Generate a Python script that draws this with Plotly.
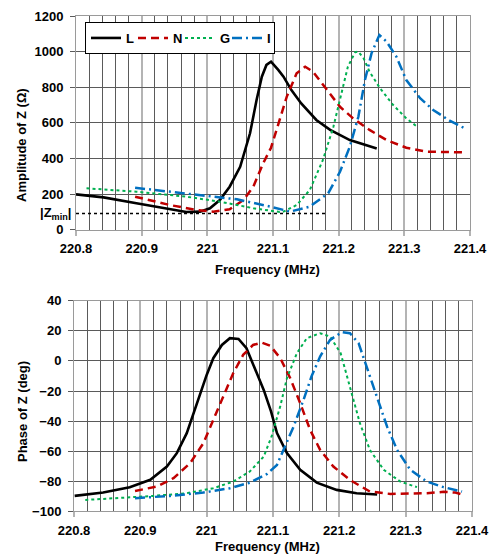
import plotly.graph_objects as go

# ---------------- data: amplitude |Z| (Ohm) ----------------
amp_L_f = [220.800, 220.842, 220.892, 220.944, 220.968, 220.989, 221.004, 221.019, 221.034, 221.050,
           221.065, 221.075, 221.083, 221.090, 221.097, 221.108, 221.116, 221.128, 221.143, 221.166,
           221.187, 221.217, 221.242, 221.258]
amp_L_v = [198, 181, 148, 114, 99, 101, 120, 166, 241, 353,
           541, 728, 859, 925, 943, 897, 859, 784, 709, 616,
           560, 503, 471, 455]

amp_N_f = [220.890, 220.943, 220.984, 221.009, 221.034, 221.055, 221.070, 221.085, 221.097, 221.105,
           221.121, 221.136, 221.149, 221.161, 221.182, 221.202, 221.222, 221.247, 221.273, 221.303,
           221.334, 221.364, 221.392]
amp_N_v = [185, 138, 110, 101, 114, 166, 241, 372, 460, 560,
           747, 878, 915, 887, 784, 690, 625, 560, 503, 460,
           438, 436, 434]

amp_G_f = [220.816, 220.892, 220.968, 221.019, 221.070, 221.110, 221.116, 221.136, 221.156, 221.176,
           221.192, 221.204, 221.214, 221.225, 221.230, 221.238, 221.247, 221.263, 221.283, 221.303,
           221.318]
amp_G_v = [232, 213, 185, 157, 120, 99, 101, 138, 222, 391,
           578, 766, 915, 996, 1000, 962, 887, 794, 700, 625,
           582]

amp_I_f = [220.890, 220.943, 220.994, 221.045, 221.095, 221.126, 221.156, 221.184, 221.202, 221.217,
           221.230, 221.240, 221.250, 221.262, 221.273, 221.288, 221.303, 221.324, 221.344, 221.369,
           221.392]
amp_I_v = [235, 213, 194, 170, 130, 101, 129, 204, 325, 466,
           634, 840, 990, 1093, 1056, 971, 840, 738, 672, 612,
           569]

# ---------------- data: phase of Z (deg) ----------------
ph_L_f = [220.801, 220.844, 220.884, 220.915, 220.940, 220.955, 220.970, 220.980, 220.990, 221.000,
          221.010, 221.023, 221.035, 221.048, 221.060, 221.073, 221.086, 221.097, 221.106, 221.121,
          221.141, 221.166, 221.196, 221.226, 221.257]
ph_L_v = [-89.7, -87.5, -83.9, -79.0, -70.2, -61.3, -48.0, -34.8, -21.5, -9.3,
          1.8, 10.6, 15.1, 14.6, 8.4, -4.9, -19.3, -33.5, -48.0, -61.3,
          -72.4, -80.9, -85.7, -87.9, -88.8]

ph_N_f = [220.892, 220.925, 220.950, 220.975, 220.995, 221.010, 221.025, 221.040, 221.055, 221.070,
          221.083, 221.096, 221.111, 221.126, 221.141, 221.156, 221.171, 221.191, 221.216, 221.246,
          221.277, 221.307, 221.332, 221.357, 221.375, 221.387]
ph_N_v = [-86.4, -83.5, -77.9, -68.0, -54.7, -39.2, -23.7, -8.2, 4.0, 10.6,
          12.2, 10.0, 1.8, -11.5, -28.1, -45.9, -59.1, -70.2, -79.1, -86.8,
          -88.4, -88.4, -87.9, -87.0, -87.5, -89.0]

ph_G_f = [220.817, 220.869, 220.920, 220.970, 221.010, 221.040, 221.065, 221.086, 221.098, 221.111,
          221.121, 221.136, 221.151, 221.171, 221.186, 221.202, 221.216, 221.231, 221.246, 221.267,
          221.292, 221.317]
ph_G_v = [-92.4, -91.2, -89.7, -87.9, -84.6, -80.2, -73.5, -63.6, -50.0, -30.0,
          -11.5, 5.1, 15.1, 18.4, 16.2, 5.1, -17.1, -41.4, -59.1, -72.4,
          -80.2, -83.9]

ph_I_f = [220.892, 220.945, 220.995, 221.035, 221.065, 221.091, 221.106, 221.116, 221.131, 221.146,
          221.158, 221.171, 221.186, 221.204, 221.216, 221.229, 221.241, 221.257, 221.272, 221.287,
          221.307, 221.332, 221.357, 221.385]
ph_I_v = [-91.2, -89.7, -87.5, -84.6, -80.9, -75.1, -69.1, -59.1, -43.7, -25.9,
          -10.4, 2.9, 14.0, 19.1, 18.4, 11.8, -3.8, -23.7, -43.7, -59.1,
          -72.4, -80.2, -83.9, -86.8]

series_names = ["L", "N", "G", "I"]
zmin_value = 90
zmin_end_freq = 221.18

x_range = [220.8, 221.4]
x_ticks = [220.8, 220.9, 221.0, 221.1, 221.2, 221.3, 221.4]
x_tick_text = ["220.8", "220.9", "221", "221.1", "221.2", "221.3", "221.4"]
amp_ticks = [0, 200, 400, 600, 800, 1000, 1200]
ph_ticks = [-100, -80, -60, -40, -20, 0, 20, 40]

# ---------------- styling ----------------
styles = {
    "L": dict(color="#000000", width=2.6, dash="solid"),
    "N": dict(color="#c00000", width=2.5, dash="8px,5px"),
    "G": dict(color="#00b050", width=2, dash="dot"),
    "I": dict(color="#0070c0", width=2.5, dash="10px,4px,2px,4px"),
}

amp_data = {"L": (amp_L_f, amp_L_v), "N": (amp_N_f, amp_N_v),
            "G": (amp_G_f, amp_G_v), "I": (amp_I_f, amp_I_v)}
ph_data = {"L": (ph_L_f, ph_L_v), "N": (ph_N_f, ph_N_v),
           "G": (ph_G_f, ph_G_v), "I": (ph_I_f, ph_I_v)}

fig = go.Figure()
for name in series_names:
    f, v = amp_data[name]
    fig.add_trace(go.Scatter(x=f, y=v, mode="lines", name=name, line=styles[name],
                             xaxis="x", yaxis="y", showlegend=True))
for name in series_names:
    f, v = ph_data[name]
    fig.add_trace(go.Scatter(x=f, y=v, mode="lines", name=name, line=styles[name],
                             xaxis="x2", yaxis="y2", showlegend=False))

W, H = 492, 554

def px(x):
    return x / W

def py(y):
    return 1 - y / H

font_family = "Liberation Sans, Arial, sans-serif"
tick_font = dict(family=font_family, size=13, color="#000000", weight="bold")

grid_major = "#b4b4b4"
grid_minor = "#5a5a5a"

def xaxis_cfg(domain, anchor):
    return dict(domain=domain, anchor=anchor, range=x_range,
                tickvals=x_ticks, ticktext=x_tick_text,
                showgrid=True, gridcolor=grid_major, gridwidth=2,
                minor=dict(dtick=0.02, tick0=220.8, showgrid=True, gridcolor=grid_minor, gridwidth=1,
                           ticks=""),
                ticks="outside", ticklen=5, tickcolor=grid_major, tickwidth=2,
                showline=True, linecolor="#9a9a9a", linewidth=1, mirror=True,
                tickfont=tick_font, ticklabelstandoff=2, zeroline=False, fixedrange=True,
                automargin=False)

def yaxis_cfg(domain, anchor, rng, ticks):
    return dict(domain=domain, anchor=anchor, range=rng, tickvals=ticks,
                showgrid=True, gridcolor=grid_minor, gridwidth=1,
                ticks="outside", ticklen=5, tickcolor=grid_minor,
                showline=True, linecolor="#9a9a9a", linewidth=1, mirror=True,
                tickfont=tick_font, ticklabelstandoff=4, zeroline=False, fixedrange=True,
                automargin=False)

fig.update_layout(
    width=W, height=H,
    margin=dict(l=0, r=0, t=0, b=0, pad=0, autoexpand=False),
    paper_bgcolor="white", plot_bgcolor="white",
    xaxis=xaxis_cfg([px(76), px(470)], "y"),
    yaxis=yaxis_cfg([py(229.6), py(16)], "x", [0, 1200], amp_ticks),
    xaxis2=xaxis_cfg([px(74), px(472)], "y2"),
    yaxis2=yaxis_cfg([py(511.4), py(300.7)], "x2", [-100, 40], ph_ticks),
    legend=dict(orientation="h", x=px(85), y=py(22), xanchor="left", yanchor="top",
                bgcolor="white", bordercolor="#000000", borderwidth=1,
                font=dict(family=font_family, size=13, color="#000000", weight="bold"),
                entrywidth=2, entrywidthmode="pixels", tracegroupgap=0,
                itemwidth=30),
    showlegend=True,
)

# |Zmin| dotted reference line
fig.add_shape(type="line", xref="x", yref="y", x0=x_range[0], x1=zmin_end_freq,
              y0=zmin_value, y1=zmin_value, line=dict(color="#000000", width=1.5, dash="dot"))

title_font = dict(family=font_family, size=13, color="#000000")
fig.add_annotation(text="<b>|Z<sub>min</sub>|</b>", xref="paper", yref="y", x=px(55), y=zmin_value,
                   showarrow=False, font=dict(family=font_family, size=13, color="#000000"),
                   xanchor="center", yanchor="middle")
fig.add_annotation(text="<b>Frequency (MHz)</b>", xref="paper", yref="paper",
                   x=px(267), y=py(269), showarrow=False, font=title_font,
                   xanchor="center", yanchor="middle")
fig.add_annotation(text="<b>Frequency (MHz)</b>", xref="paper", yref="paper",
                   x=px(267), y=py(546), showarrow=False, font=title_font,
                   xanchor="center", yanchor="middle")
fig.add_annotation(text="<b>Amplitude of Z (Ω)</b>", xref="paper", yref="paper",
                   x=px(22), y=py(145), showarrow=False, font=title_font, textangle=-90,
                   xanchor="center", yanchor="middle")
fig.add_annotation(text="<b>Phase of Z (deg)</b>", xref="paper", yref="paper",
                   x=px(22), y=py(412), showarrow=False, font=title_font, textangle=-90,
                   xanchor="center", yanchor="middle")

fig.write_html(
    "out.html",
    config={"displayModeBar": False},
    post_script="document.body.style.margin='0';document.body.style.overflow='hidden';",
)
